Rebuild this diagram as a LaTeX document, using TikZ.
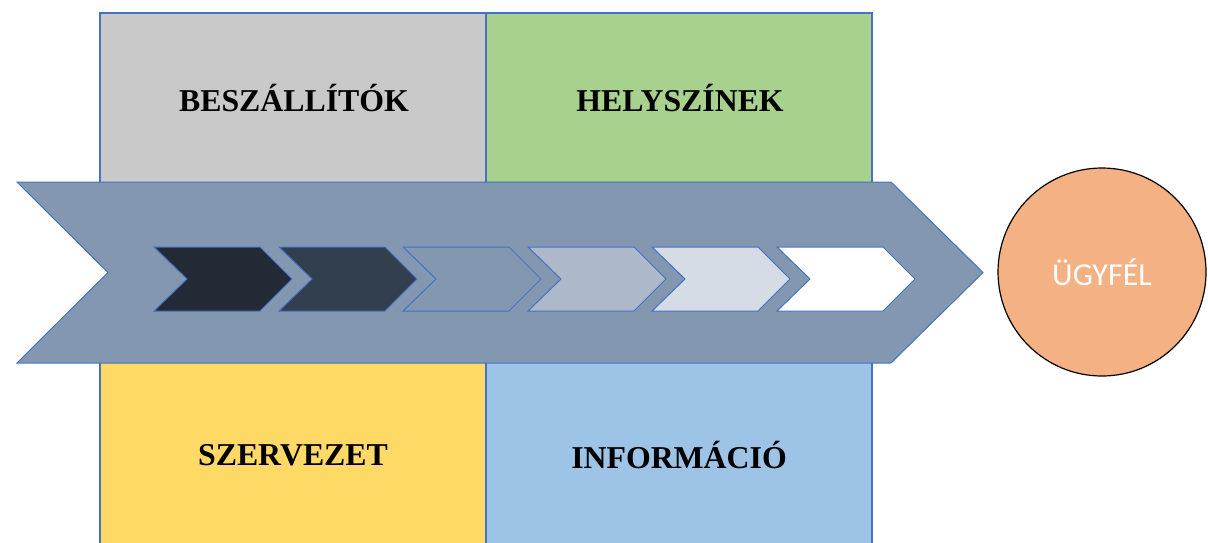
\documentclass[tikz,border=0pt]{standalone}
\usepackage{fontspec}
\setmainfont{Liberation Serif}
\newfontfamily\calib{Carlito}
\definecolor{edgeblue}{HTML}{4472C4}
\definecolor{qgray}{HTML}{C9C9C9}
\definecolor{qgreen}{HTML}{A9D18E}
\definecolor{qyellow}{HTML}{FFD966}
\definecolor{qblue}{HTML}{9DC3E6}
\definecolor{bigarrow}{HTML}{8497B0}
\definecolor{chA}{HTML}{222A35}
\definecolor{chB}{HTML}{323F4F}
\definecolor{chC}{HTML}{8497B0}
\definecolor{chD}{HTML}{ADB9CA}
\definecolor{chE}{HTML}{D6DCE5}
\definecolor{chF}{HTML}{FFFFFF}
\definecolor{circfill}{HTML}{F4B183}
\tikzset{
  quad/.style={draw=edgeblue, line width=0.6pt},
  qlabel/.style={font=\bfseries\fontsize{15.9}{18}\selectfont, text=black},
  chev/.style={draw=edgeblue, line width=0.5pt, line join=miter},
}
\begin{document}
\begin{tikzpicture}[x=0.5pt,y=-0.5pt]
\useasboundingbox (0,0) rectangle (1208,542);
\begin{scope}
\clip (0,0) rectangle (1208,542);
% quadrants
\filldraw[quad, fill=qgray]   (100,13) rectangle (486,200);
\filldraw[quad, fill=qgreen]  (486,13) rectangle (872,200);
\filldraw[quad, fill=qyellow] (100,345) rectangle (486,560);
\filldraw[quad, fill=qblue]   (486,345) rectangle (872,560);
% big arrow
\filldraw[chev, fill=bigarrow] (17,182) -- (891,182) -- (983,272.5) -- (891,363) -- (17,363) -- (108,272.5) -- cycle;
% small chevrons
\foreach \x/\c in {154/chA, 279/chB, 403/chC, 528/chD, 652/chE, 777/chF}{
  \filldraw[chev, fill=\c] (\x,247) -- (\x+106,247) -- (\x+138,279) -- (\x+106,311) -- (\x,311) -- (\x+33,279) -- cycle;
}
% circle
\node[circle, draw=black, line width=0.6pt, fill=circfill, minimum size=104pt, inner sep=0pt,
      text=white, font=\calib\fontsize{16}{19}\selectfont] (ugyfel) at (1102,272) {ÜGYFÉL};
\end{scope}
\node[qlabel] (besz) at (294,98) {BESZÁLLÍTÓK};
\node[qlabel] (hely) at (680,98) {HELYSZÍNEK};
\node[qlabel] (szerv) at (293,455) {SZERVEZET};
\node[qlabel] (info) at (679,455) {INFORMÁCIÓ};
\end{tikzpicture}
\end{document}
